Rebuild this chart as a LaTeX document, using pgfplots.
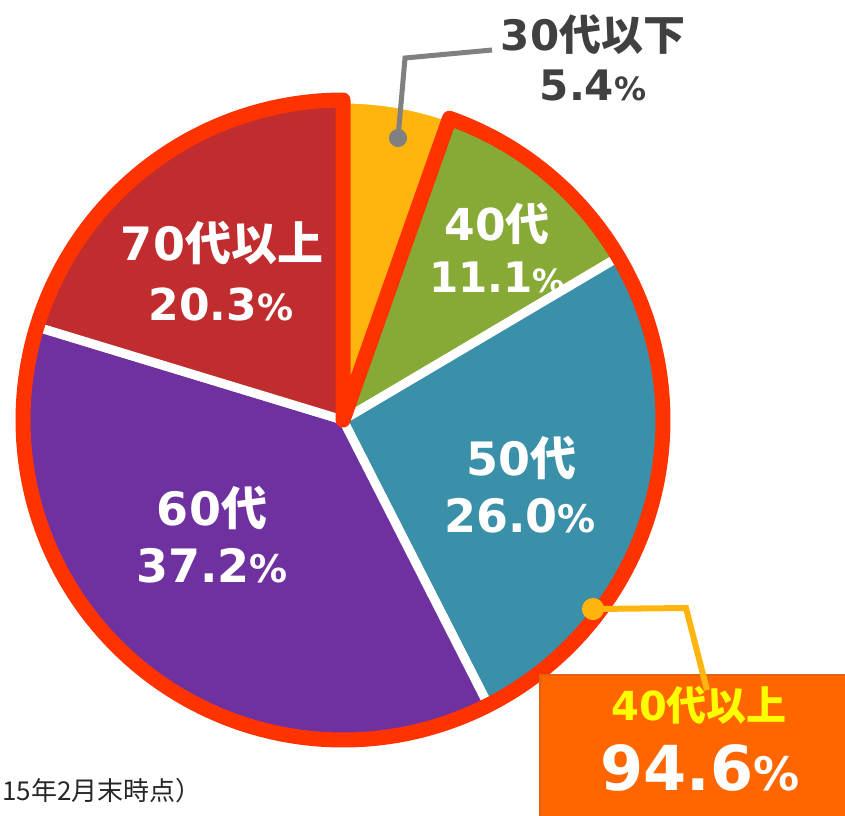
\documentclass[border=0pt]{standalone}
\usepackage{pgfplots}
\pgfplotsset{compat=1.18}
\usepackage{fontspec}
\setmainfont{DejaVu Sans}
\newfontfamily\jp{Noto Sans CJK JP}
\definecolor{cYellow}{HTML}{FFB40E}
\definecolor{cGreen}{HTML}{87A935}
\definecolor{cTeal}{HTML}{3A90A8}
\definecolor{cPurple}{HTML}{6F31A0}
\definecolor{cRed}{HTML}{C12C2F}
\definecolor{cBorder}{HTML}{FF3300}
\definecolor{cBox}{HTML}{FF6600}
\definecolor{cBoxEdge}{HTML}{E2620E}
\definecolor{cLeadY}{HTML}{FFB40E}
\definecolor{cGray}{HTML}{808080}
\definecolor{cDark}{HTML}{404040}
\definecolor{cText}{HTML}{FFFF00}
\newcommand\fs[1]{\fontsize{#1}{#1}\selectfont}
\begin{document}
\begin{tikzpicture}
\useasboundingbox (0,0) rectangle (845pt,815pt);
\clip (0,0) rectangle (845pt,815pt);
\begin{axis}[
  width=845pt, height=815pt, scale only axis,
  xmin=0, xmax=845, ymin=0, ymax=815, y dir=reverse,
  hide axis, clip=false]
% slices: shares (%) 30代以下 5.4, 40代 11.1, 50代 26.0, 60代 37.2, 70代以上 20.3 (clockwise from 12 o'clock)
\addplot[fill=cYellow, draw=white, line width=9pt, line join=round, domain={90-3.6*5.4}:{90}, samples=20]
  ({343+321*cos(x)},{420-321*sin(x)}) -- (axis cs:343,420) -- cycle;
\addplot[fill=cGreen, draw=white, line width=9pt, line join=round, domain={90-3.6*16.5}:{90-3.6*5.4}, samples=40]
  ({343+321*cos(x)},{420-321*sin(x)}) -- (axis cs:343,420) -- cycle;
\addplot[fill=cTeal, draw=white, line width=9pt, line join=round, domain={90-3.6*42.5}:{90-3.6*16.5}, samples=80]
  ({343+321*cos(x)},{420-321*sin(x)}) -- (axis cs:343,420) -- cycle;
\addplot[fill=cPurple, draw=white, line width=9pt, line join=round, domain={90-3.6*79.7}:{90-3.6*42.5}, samples=100]
  ({343+321*cos(x)},{420-321*sin(x)}) -- (axis cs:343,420) -- cycle;
\addplot[fill=cRed, draw=white, line width=9pt, line join=round, domain={90-3.6*100}:{90-3.6*79.7}, samples=60]
  ({343+321*cos(x)},{420-321*sin(x)}) -- (axis cs:343,420) -- cycle;
% outline of the 40+ group (94.6%)
\addplot[draw=cBorder, line width=15pt, line join=round, domain={90-3.6*100}:{90-3.6*5.4}, samples=240]
  ({343+320*cos(x)},{420-320*sin(x)}) -- (axis cs:343,420) -- cycle;
% leader lines
\addplot[color=cGray, line width=5pt, mark=*, mark size=6.5pt, mark indices={1}, mark options={fill=cGray, draw=cGray}]
  coordinates {(398,138) (405,58) (492,50)};
\draw[draw=cBoxEdge, fill=cBox, line width=1.5pt] (axis cs:540,675) rectangle (axis cs:870,840);
\addplot[color=cLeadY, line width=6pt, mark=*, mark size=8pt, mark indices={1}, mark options={fill=cLeadY, draw=cLeadY}]
  coordinates {(593,609) (686,608) (707,690)};
% labels
\node[anchor=base, text=cDark, font={\fs{42}\bfseries}] at (axis cs:593,50) {30{\jp 代以下}};
\node[anchor=base, text=cDark, font={\fs{42}\bfseries}] at (axis cs:593,100) {5.4{\fs{32}\%}};
\node[anchor=base, text=white, font={\fs{44}\bfseries}] at (axis cs:497,240) {40{\jp 代}};
\node[anchor=base, text=white, font={\fs{42}\bfseries}] at (axis cs:497,292) {11.1{\fs{32}\%}};
\node[anchor=base, text=white, font={\fs{46}\bfseries}] at (axis cs:521,475) {50{\jp 代}};
\node[anchor=base, text=white, font={\fs{46}\bfseries}] at (axis cs:520,532) {26.0{\fs{38}\%}};
\node[anchor=base, text=white, font={\fs{46}\bfseries}] at (axis cs:212,525) {60{\jp 代}};
\node[anchor=base, text=white, font={\fs{46}\bfseries}] at (axis cs:212,582) {37.2{\fs{38}\%}};
\node[anchor=base, text=white, font={\fs{46}\bfseries}] at (axis cs:222,260) {70{\jp 代以上}};
\node[anchor=base, text=white, font={\fs{44}\bfseries}] at (axis cs:221,320) {20.3{\fs{36}\%}};
\node[anchor=base, text=cText, font={\fs{40}\bfseries}] at (axis cs:699,720) {40{\jp 代以上}};
\node[anchor=base, text=white, font={\fs{62}\bfseries}] at (axis cs:700,790) {94.6{\fs{46}\%}};
\node[anchor=base west, inner sep=0pt, text=black!85, font={\fs{26}\jp}] at (axis cs:2,800) {15年2月末時点）};
\end{axis}
\end{tikzpicture}
\end{document}
